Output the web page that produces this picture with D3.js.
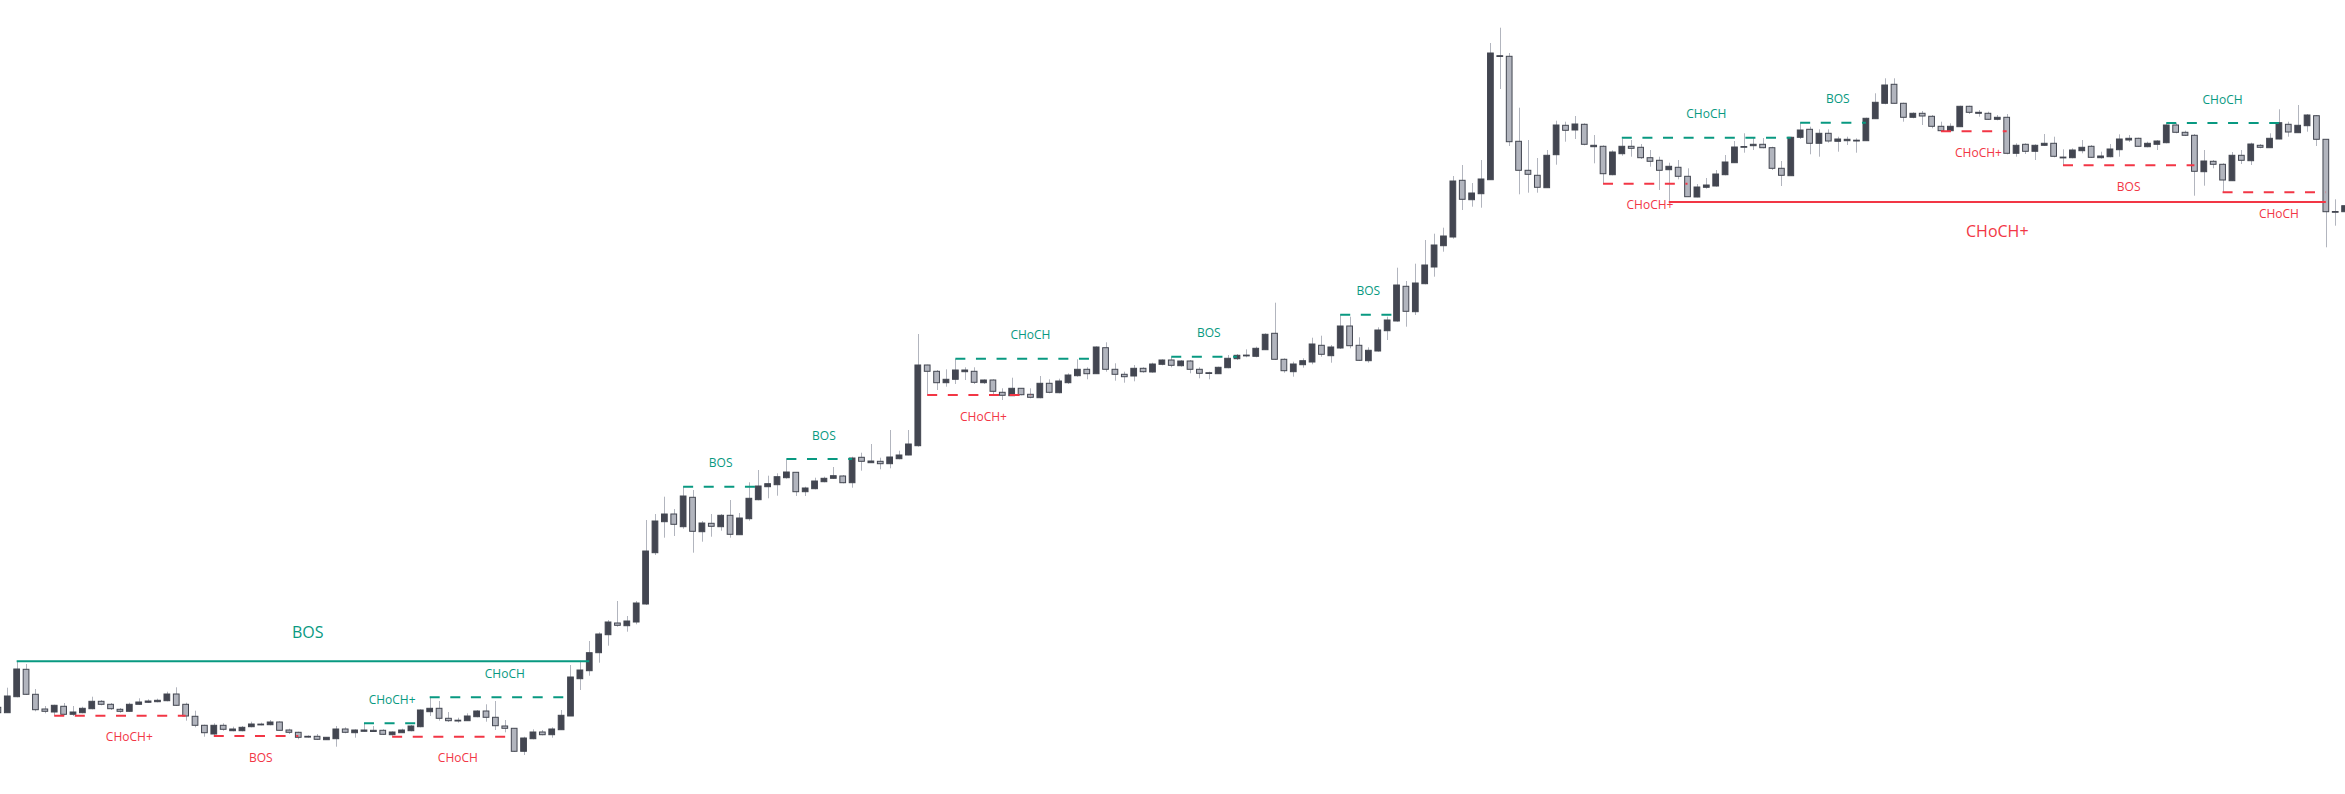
<!DOCTYPE html>
<html>
<head>
<meta charset="utf-8">
<script src="https://cdn.jsdelivr.net/npm/d3@7"></script>
<style>
  html, body { margin: 0; padding: 0; background: #ffffff; overflow: hidden; }
  #chart { width: 2345px; height: 794px; }
</style>
</head>
<body>
<div id="chart"></div>
<script>
// candle values (arbitrary price units)
const open = [
  92.7, 87.3, 103.3, 130.7, 105.7, 91, 88, 93.7, 85.7, 87.3,
  91.3, 98.7, 95.7, 90.7, 88.7, 95.7, 97.7, 98.3, 99.3, 106,
  95.7, 83.7, 74.7, 66, 74.7, 69.3, 69.3, 73.3, 75.4, 75.3,
  78, 70, 67.7, 63.7, 63.7, 60.3, 61.3, 71, 67.3, 68.7,
  68.5, 69.7, 65.3, 67.3, 69.3, 73.3, 88.3, 91.7, 81.7, 79.5,
  79.3, 83.3, 89, 82.7, 74, 71.7, 48.7, 61.3, 68, 65.3,
  70.3, 84, 121.3, 129.3, 147.3, 165.3, 177, 174.3, 178, 196,
  247.3, 278.3, 286, 273.3, 302.7, 268.3, 276.7, 273.3, 284.7, 265.3,
  281.3, 300.3, 313.3, 315.3, 322.3, 327.7, 308.3, 311.3, 318.3, 321.7,
  324, 317.3, 342.7, 337.3, 338.7, 336.3, 341.3, 345, 354.3, 435,
  428.7, 417.3, 420.7, 428.3, 428.7, 417.3, 420, 407.7, 404.3, 411.7,
  405.7, 402.3, 416.7, 407.3, 417.3, 424.3, 430.7, 426.3, 452.3, 430.7,
  425.7, 424, 431.7, 428, 435.7, 440, 434.3, 439, 430.7, 427.3,
  426.3, 432.3, 441.3, 444.5, 443.7, 450.3, 466.7, 440.7, 428.3, 435.3,
  438, 454.7, 444.3, 452, 474, 454.7, 439.3, 449, 469.3, 479,
  513.7, 488.3, 516.3, 533, 554.3, 563, 619.7, 600.3, 606.3, 620.3,
  743.8, 743.7, 658.7, 629.7, 624.7, 612.3, 645.3, 674.7, 670, 675.7,
  653.3, 653.7, 625.3, 646.3, 653.7, 652.7, 642.3, 639.7, 630.3, 632.7,
  623.7, 603, 612.7, 614, 625.3, 637.3, 653.5, 654.3, 655.7, 652.3,
  631.7, 624.3, 662.7, 670.7, 656.7, 666.7, 658.7, 659.3, 659.8, 659.3,
  681.3, 696.7, 715.7, 696.7, 682.7, 686.7, 683.7, 673.7, 669.3, 673.3,
  693.7, 686.7, 686.7, 680.7, 682.7, 646.7, 655.7, 648.7, 654.7, 656.7,
  642.9, 642.3, 649.3, 653.7, 642.3, 643.3, 650.3, 660, 661.7, 653.3,
  655.7, 657.3, 675, 667.7, 664.7, 628.3, 638.7, 635.7, 619.3, 644.7,
  639.3, 654.7, 652.3, 661, 675.7, 667.3, 674.3, 684.3, 660.7, 588.5,
  588.3];

const high = [
  94, 112.3, 138.3, 136, 111, 94, 95.3, 97, 94, 93.3,
  103.3, 100, 97, 92, 97.3, 101.7, 100.7, 101.3, 108.3, 112.7,
  97.3, 89.3, 75.3, 76.7, 76.7, 73.3, 74, 78.3, 77.3, 80,
  78.7, 71.3, 68.3, 64.7, 66, 63, 74, 72.7, 70.7, 76,
  74, 70.7, 68.7, 71.3, 75, 90.7, 103.3, 99, 88, 82.3,
  86.7, 90, 95.7, 99, 80, 72, 63.3, 70.7, 70, 72.7,
  90, 135, 139.3, 159, 167.7, 180, 199, 184, 199, 280,
  286, 303.3, 291, 313.3, 310, 279, 286, 286, 300, 287,
  317.7, 330, 324.3, 326.7, 340.5, 327.7, 313.3, 322.3, 323.3, 333,
  325, 343.3, 347.3, 356, 342.3, 370, 349.3, 370, 466, 435.3,
  430, 430.7, 441, 432.7, 432.7, 420.7, 420.7, 411.7, 422.3, 411.7,
  411.7, 424, 420.7, 421.3, 426.7, 440.7, 432.7, 453.7, 457.7, 436.7,
  428.3, 435, 432.7, 437.3, 440.7, 443, 440, 440, 432.7, 428.3,
  433.3, 445, 446, 450.7, 453.3, 466.7, 497.3, 441.7, 438.3, 441.7,
  462.3, 464.3, 455, 485.7, 483.3, 462.7, 452.7, 472.7, 483.3, 532.3,
  519, 536.3, 560, 566.3, 572.3, 624, 635, 617, 640, 757,
  772.3, 747, 692.3, 660, 642, 650, 679.3, 678.3, 684, 676.7,
  665, 654.7, 649.7, 661.3, 660, 656, 650, 643.3, 637.3, 640,
  631.7, 616, 622, 630, 645, 659, 666.7, 662.7, 662, 653.3,
  639, 663.3, 677.3, 673.3, 670.7, 670.7, 663.3, 663.3, 661.7, 682.3,
  706.7, 721.7, 721.7, 697.3, 687.7, 689, 685, 678.3, 676.7, 694.3,
  694.3, 690, 688.3, 685, 686, 656.7, 656.7, 655.7, 666, 663.3,
  650.7, 651.7, 660, 655, 648.3, 656, 665.7, 665, 662.3, 658.3,
  660, 676.7, 676.7, 669.3, 666, 650, 640, 636.7, 648, 650,
  657.3, 656, 666.7, 690.7, 678.3, 695, 686, 685, 660.7, 600.7,
  627];

const low = [
  86.7, 87.3, 102.7, 105, 88.7, 86.7, 84.3, 84.7, 84, 86.7,
  90.7, 94.7, 90, 87.3, 88, 95, 97, 97.7, 98.7, 94,
  79.3, 72.7, 63.3, 64.7, 69.3, 68.7, 68.7, 72.7, 74.7, 74.7,
  69.3, 66, 60.7, 62.3, 60, 60, 53.3, 66.7, 62.3, 68.3,
  68, 65, 64.3, 67, 68.7, 72.7, 84, 79.3, 78, 77.3,
  79, 82.7, 78.3, 70, 67.7, 48, 45, 60.7, 64.7, 62.3,
  70, 84, 110, 124.3, 137.3, 154.3, 173.3, 168.3, 175.7, 195,
  245, 262.3, 264, 271.3, 247.3, 258.3, 263.3, 269.3, 262.3, 265,
  279.3, 299.7, 301.7, 304.3, 321.3, 304, 304, 310.7, 317.7, 321,
  316.7, 312.3, 329.3, 337, 330.7, 331.7, 340.7, 344.7, 353.3, 405,
  410, 413.3, 416, 420, 416, 416, 405, 400, 404, 404.7,
  401.7, 401.7, 406.7, 406.7, 416, 423.3, 420.7, 426, 428.3, 419.3,
  417.3, 418.7, 427.3, 427.3, 434.7, 432.7, 433.3, 426.7, 421.7, 420.7,
  426, 431.7, 440, 442.7, 442.7, 450, 440, 427.3, 423.3, 432.3,
  435.7, 443.3, 437.3, 451, 451.7, 439, 437.3, 448.3, 460, 478.3,
  473.3, 485, 515.7, 523.3, 548.3, 561.3, 590, 593.3, 592.3, 620,
  711, 654, 605.7, 607.3, 607.3, 612, 635.3, 658.3, 661, 654.7,
  636.7, 616.3, 624.7, 644.3, 643.3, 641, 633.3, 610, 598, 620.7,
  603, 602.7, 611.3, 613.3, 624.7, 637, 647.3, 650, 651.7, 630,
  614, 624, 661, 645.7, 643.3, 657.3, 648.3, 655, 647.3, 659,
  681, 695.7, 696.3, 678.3, 681.7, 675, 671.7, 669, 669, 673,
  686, 683.3, 680, 679.7, 645.7, 643.3, 646, 640, 654, 642.7,
  634.7, 641.7, 646.7, 642, 641.3, 642.7, 643.3, 658, 653, 652.7,
  650, 656.7, 666.7, 664, 604.3, 614.3, 631.7, 607.3, 619, 636,
  635, 651.7, 652, 660.7, 663.3, 667, 668.3, 654, 552.7, 574.3,
  583.3];

const close = [
  87.3, 104, 131, 105.7, 90.3, 88.7, 94.7, 85.7, 88, 91.7,
  98.7, 95.7, 91.3, 88.7, 95.7, 98, 99, 99.7, 106, 94.7,
  84, 74.7, 67.3, 74.7, 70.7, 71, 72.7, 76, 75.9, 78,
  69.7, 67.7, 62.7, 63, 60.7, 62.7, 71, 67.7, 70, 70,
  69.7, 65.7, 68, 70, 74, 90, 91.7, 81.7, 79.3, 79.8,
  84, 89, 82.7, 74.3, 71.7, 48.7, 62, 68, 65.3, 71,
  84.7, 123, 130, 147.3, 166, 178, 174.7, 179, 197, 249,
  279, 286, 275.7, 304, 268.7, 277, 273.7, 284.7, 265.7, 282,
  301.7, 314, 316.3, 323.3, 328, 308.3, 312, 319, 321.7, 324.3,
  317.3, 342, 338.7, 339, 336.3, 343, 345, 356, 435, 428.7,
  417.3, 420.7, 430, 430, 417.7, 420, 408.7, 404.7, 411.7, 405.3,
  402.7, 416.7, 407.7, 419, 425, 430.7, 426.3, 453, 430.7, 425.7,
  423.3, 431.7, 428.3, 436, 440, 434.7, 439, 430.7, 426.7, 426.7,
  432.7, 441.7, 444.7, 444.9, 451.7, 465.7, 440.7, 429.3, 436, 439.3,
  456, 445.7, 453, 474, 454.3, 439.7, 449.7, 470, 480, 515,
  488.7, 517, 535, 555, 564, 619, 600.7, 607, 621, 747,
  744.3, 658.3, 629.7, 625.7, 612.7, 644.7, 675, 669.7, 676, 655.7,
  654.7, 626.3, 648, 653.7, 651.7, 642.3, 638.7, 629.7, 633.7, 623.7,
  603.3, 613, 615, 626, 638, 653, 653.1, 655.7, 652.3, 631.7,
  624.7, 662.7, 670, 656.7, 666.7, 659, 661, 660.7, 659.6, 681.7,
  697.7, 715, 696.7, 682.7, 686.7, 684, 673.7, 669.3, 673.7, 693.7,
  687.7, 687.7, 680.7, 682.7, 646.7, 654.7, 648.7, 654.7, 656.7, 643.7,
  642.5, 650, 652.7, 642.7, 644, 651, 661, 661.7, 653.7, 656.7,
  659, 675, 667.7, 664.7, 628.7, 639, 635.7, 620, 644.7, 639.7,
  656, 652.7, 661.7, 677.3, 668, 674.7, 685, 660.7, 588.3, 588.1,
  594.3];

// market structure breaks: swing bar -> breaking bar, broken level
const structFrom  = [2, 6, 23, 39, 42, 46, 73, 84, 99, 102, 125, 143, 171, 178, 173, 192, 207, 220, 231, 237];
const structTo    = [63, 20, 32, 45, 55, 61, 81, 91, 110, 117, 132, 149, 180, 248, 191, 199, 214, 234, 243, 248];
const structLabelBar = [33, 14, 28, 42, 49, 54, 77, 88, 105, 110, 129, 146, 176, 213, 182, 196, 211, 227, 237, 243];
const structLevel = [138.7, 84.3, 64, 76.7, 63.3, 102.7, 313.3, 341, 405, 441.3, 443.3, 485.3, 616.3, 598, 662.3, 677.3, 668.7, 634.7, 677, 607.7];
const structLabel = ["BOS", "CHoCH+", "BOS", "CHoCH+", "CHoCH", "CHoCH", "BOS", "BOS", "CHoCH+", "CHoCH",
                     "BOS", "BOS", "CHoCH+", "CHoCH+", "CHoCH", "BOS", "CHoCH+", "BOS", "CHoCH", "CHoCH"];
const structDir   = ["bull", "bear", "bear", "bull", "bear", "bull", "bull", "bull", "bear", "bull",
                     "bull", "bull", "bear", "bear", "bull", "bull", "bear", "bear", "bull", "bear"];
const structKind  = ["swing", "internal", "internal", "internal", "internal", "internal", "internal", "internal", "internal", "internal",
                     "internal", "internal", "internal", "swing", "internal", "internal", "internal", "internal", "internal", "internal"];

const width = 2345;
const height = 794;

const upColor = "#434651";
const downColor = "#b2b5be";
const wickColor = "#b2b5be";
const bullColor = "#089981";
const bearColor = "#f23645";

const bars = open.map((o, i) => ({ i, o, h: high[i], l: low[i], c: close[i] }));

const svg = d3.select("#chart")
    .append("svg")
    .attr("width", width)
    .attr("height", height);

const x = d3.scaleBand()
    .domain(d3.range(bars.length))
    .range([-6.8, 2349.3])
    .padding(0);

const y = d3.scaleLinear()
    .domain([6, 800])
    .range([height, 0]);

const cx = i => x(i) + x.bandwidth() / 2;
const bodyW = x.bandwidth() * 0.61;

// wicks
svg.append("g")
    .selectAll("line")
    .data(bars)
    .join("line")
    .attr("x1", d => Math.round(cx(d.i)) + 0.5)
    .attr("x2", d => Math.round(cx(d.i)) + 0.5)
    .attr("y1", d => y(d.h))
    .attr("y2", d => y(d.l))
    .attr("stroke", wickColor)
    .attr("stroke-width", 1);

// bodies
svg.append("g")
    .selectAll("rect")
    .data(bars)
    .join("rect")
    .attr("x", d => cx(d.i) - bodyW / 2)
    .attr("y", d => y(Math.max(d.o, d.c)))
    .attr("width", bodyW)
    .attr("height", d => Math.max(Math.abs(y(d.o) - y(d.c)), 0.8))
    .attr("fill", d => d.c >= d.o ? upColor : downColor)
    .attr("stroke", upColor)
    .attr("stroke-width", 1);

// structure lines + labels
const structs = structFrom.map((f, k) => ({
    from: f,
    to: structTo[k],
    at: structLabelBar[k],
    level: structLevel[k],
    label: structLabel[k],
    dir: structDir[k],
    kind: structKind[k]
}));

const sg = svg.append("g");

sg.selectAll("line")
    .data(structs)
    .join("line")
    .attr("x1", d => cx(d.from))
    .attr("x2", d => cx(d.to))
    .attr("y1", d => y(d.level))
    .attr("y2", d => y(d.level))
    .attr("stroke", d => d.dir === "bull" ? bullColor : bearColor)
    .attr("stroke-width", 2)
    .attr("stroke-dasharray", d => d.kind === "swing" ? null : "10,10.6");

sg.selectAll("text")
    .data(structs)
    .join("text")
    .attr("x", d => cx(d.at))
    .attr("y", d => {
        const fs = d.kind === "swing" ? 16 : 12;
        const off = d.kind === "swing" ? 29 : (d.dir === "bull" ? 23.5 : 21.5);
        const centre = d.dir === "bull" ? y(d.level) - off : y(d.level) + off;
        return centre + fs * 0.357;
    })
    .attr("text-anchor", "middle")
    .attr("font-family", "'Open Sans', 'Noto Sans', sans-serif")
    .attr("font-size", d => d.kind === "swing" ? 16 : 12)
    .attr("fill", d => d.dir === "bull" ? bullColor : bearColor)
    .text(d => d.label);
</script>
</body>
</html>
